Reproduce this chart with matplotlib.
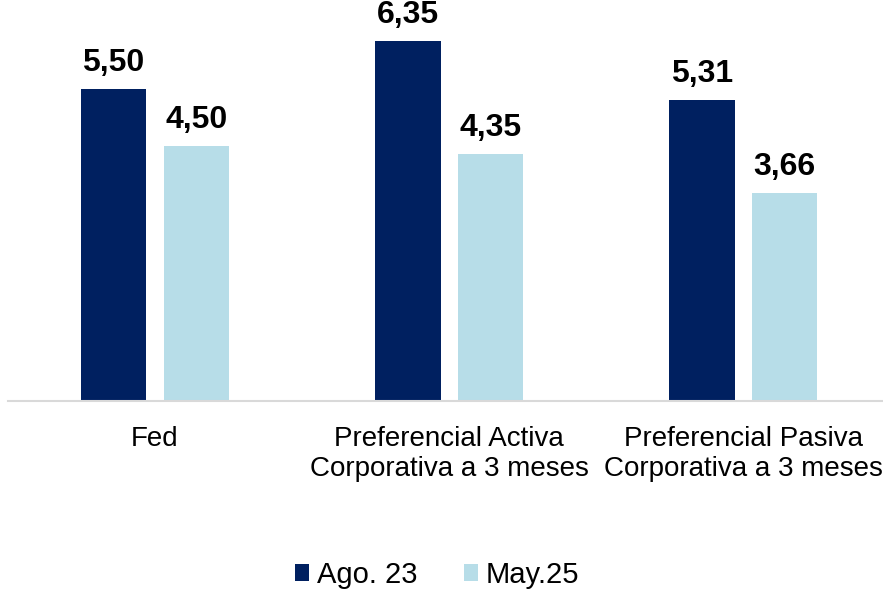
import matplotlib.pyplot as plt
import numpy as np

plt.rcParams['font.family'] = ['Liberation Sans', 'DejaVu Sans']

categories = ["Fed", "Preferencial Activa\nCorporativa a 3 meses", "Preferencial Pasiva\nCorporativa a 3 meses"]
ago23 = [5.50, 6.35, 5.31]
may25 = [4.50, 4.35, 3.66]
series_names = ["Ago. 23", "May.25"]
colors = ["#002060", "#B7DDE8"]

fig = plt.figure(figsize=(8.83, 5.93), dpi=100)
ax = fig.add_axes([8 / 883, 192 / 593, 875 / 883, 397 / 593])

x = np.arange(len(categories))
w = 0.224
off = 0.141
bars1 = ax.bar(x - off, ago23, w, color=colors[0], label=series_names[0])
bars2 = ax.bar(x + off, may25, w, color=colors[1], label=series_names[1])

for bars, vals in [(bars1, ago23), (bars2, may25)]:
    for b, v in zip(bars, vals):
        ax.annotate(f"{v:.2f}".replace(".", ","), (b.get_x() + b.get_width() / 2, v),
                    xytext=(0, 8), textcoords="offset points", ha="center", va="bottom",
                    fontsize=23, fontweight="bold")

ax.set_xlim(-0.5, 2.476)
ax.set_ylim(0, 7)
ax.set_xticks(x)
ax.set_xticklabels(categories, fontsize=20, linespacing=1.2)
ax.tick_params(axis="x", length=0, pad=18)
ax.set_yticks([])
for s in ["top", "right", "left"]:
    ax.spines[s].set_visible(False)
ax.spines["bottom"].set_color("#D9D9D9")
ax.spines["bottom"].set_linewidth(1.5)

fig.legend(loc="center", bbox_to_anchor=(437 / 883, 1 - 575 / 593), ncol=2, frameon=False,
           fontsize=21, handlelength=0.5, handleheight=0.5, handletextpad=0.25, columnspacing=1.6)

fig.savefig("out.png", dpi=100)
